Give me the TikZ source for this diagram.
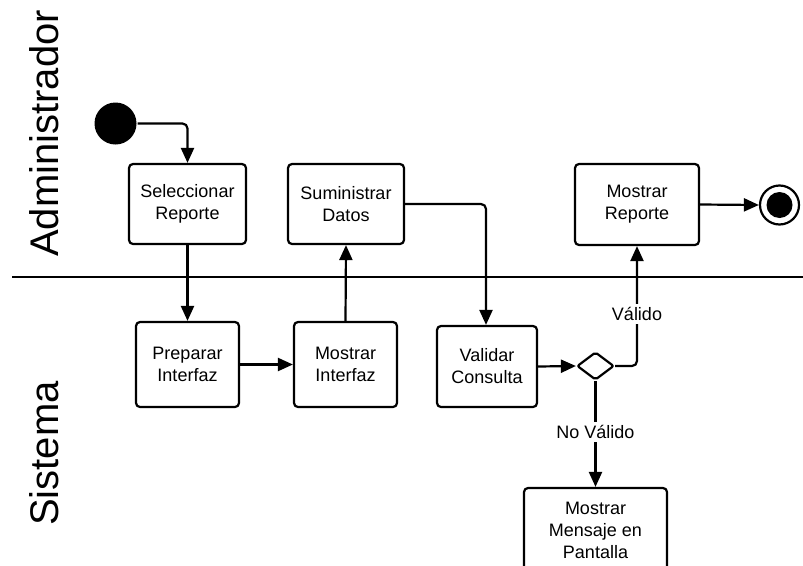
\documentclass[tikz,border=0pt]{standalone}
\usepackage{fontspec}
\setmainfont{Liberation Sans}
\usetikzlibrary{shapes.geometric,arrows.meta}

\begin{document}
\begin{tikzpicture}[x=1pt,y=-1pt,
  line width=2.2pt,
  activity/.style={draw, line width=2.2pt, rounded corners=4pt, align=center, inner sep=0pt,
    font=\fontsize{18}{22}\selectfont},
  choice/.style={draw, line width=2.2pt, diamond, rounded corners=2pt, inner sep=0pt,
    minimum width=37pt, minimum height=28pt},
  flow/.style={line width=2.2pt, -{Triangle[length=15pt,width=13pt]}, rounded corners=5pt},
  guard/.style={fill=white, inner sep=3pt, font=\fontsize{18}{22}\selectfont},
  lane/.style={rotate=90, font=\fontsize{40}{48}\selectfont}]

  \clip (0,0) rectangle (803,565);
  \useasboundingbox (0,0) rectangle (803,565);
  \fill[white] (0,0) rectangle (803,565);

  % swimlanes
  \node[lane] (laneA) at (44,133.5) {Administrador};
  \node[lane] (laneS) at (44,453.5) {Sistema};
  \coordinate (divL) at (12,277);
  \coordinate (divR) at (803,277);
  \draw (divL) -- (divR);

  % initial and final nodes
  \node[circle, fill=black, inner sep=0pt, minimum size=42pt] (start) at (115.5,123.5) {};
  \node[circle, draw, line width=2.2pt, fill=white, inner sep=0pt, minimum size=39pt] (final) at (779.5,205) {};
  \node[circle, fill=black, inner sep=0pt, minimum size=26pt] (finaldot) at (779.5,205) {};

  % administrator activities
  \node[activity, minimum width=117pt, minimum height=80pt] (sel) at (187.5,204) {Seleccionar\\Reporte};
  \node[activity, minimum width=116pt, minimum height=80pt] (sum) at (346,204) {Suministrar\\Datos};
  \node[activity, minimum width=124pt, minimum height=81pt] (rep) at (637,204.5) {Mostrar\\Reporte};

  % system activities
  \node[activity, minimum width=103pt, minimum height=85pt] (prep) at (187.5,364.5) {Preparar\\Interfaz};
  \node[activity, minimum width=103pt, minimum height=85pt] (mint) at (345.5,364.5) {Mostrar\\Interfaz};
  \node[activity, minimum width=100pt, minimum height=81pt] (val) at (487,366.5) {Validar\\Consulta};
  \node[choice] (dec) at (595.5,366) {};
  \node[activity, minimum width=143pt, minimum height=84pt] (msg) at (595.5,530) {Mostrar\\Mensaje en\\Pantalla};

  % control flow
  \draw[flow] (start.east) -| (sel.north);
  \draw[flow] (sel.south) -- (prep.north);
  \draw[flow] (prep.east) -- (mint.west);
  \draw[flow] (mint.north) -- (sum.south);
  \draw[flow] (sum.east) -| ([xshift=-1pt]val.north);
  \draw[flow] (val.east) -- (dec.west);
  \draw[flow] (dec.east) -| (rep.south);
  \draw[flow] (rep.east) -- (final.west);
  \draw[flow] (dec.south) -- (msg.north);

  % guards
  \node[guard] (gOk) at (637,314) {Válido};
  \node[guard] (gNo) at (595.5,432) {No Válido};
\end{tikzpicture}
\end{document}
